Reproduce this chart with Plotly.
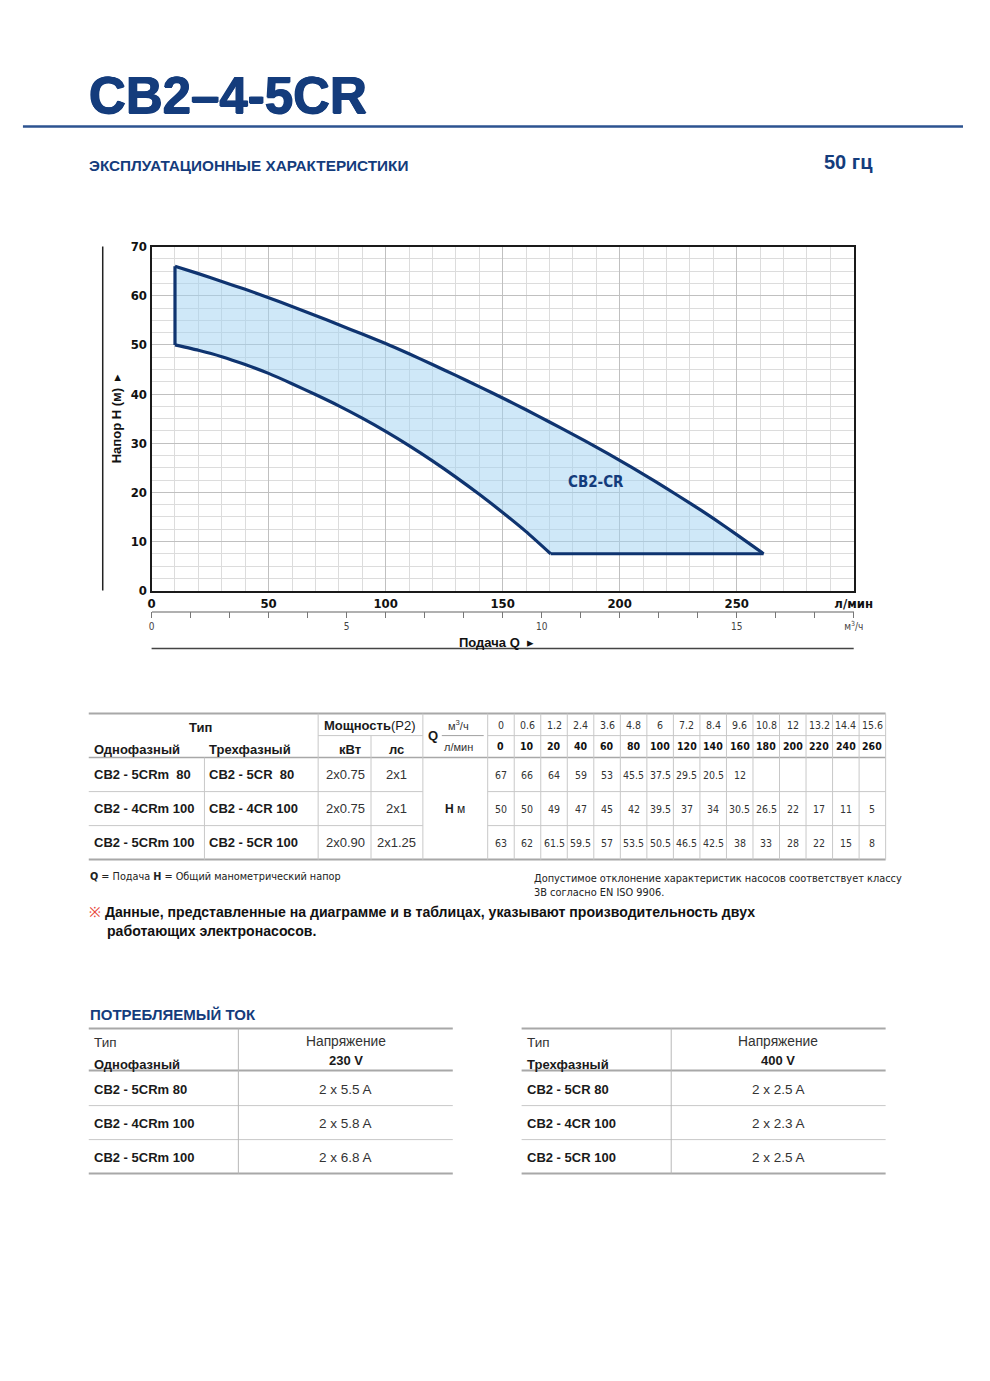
import plotly.graph_objects as go

# Window size (px); the page body keeps its default 8px margin
W, H = 990, 1381
M = 8
FW, FH = W - 2 * M, H - 2 * M
# the photographed page comes out slightly scaled; these undo it
SX, OX = 0.979, 3.2
SY, OY = 0.989, 6.5

# Performance envelope (Q in l/min, H in m)
q_upper = [10, 20, 30, 40, 50, 60, 70, 80, 90, 100, 110, 120, 130, 140, 150,
           160, 170, 180, 190, 200, 210, 220, 230, 240, 250, 261.5]
h_upper = [66, 64.5, 62.9, 61.3, 59.6, 57.8, 56.0, 54.1, 52.2, 50.3, 48.2, 46.0, 43.8, 41.5, 39.2,
           36.8, 34.3, 31.8, 29.2, 26.5, 23.7, 20.8, 17.8, 14.7, 11.4, 7.5]
q_lower = [10, 20, 30, 40, 50, 60, 70, 80, 90, 100, 110, 120, 130, 140, 150, 160, 170.5]
h_lower = [50, 48.9, 47.6, 46.0, 44.2, 42.1, 39.9, 37.6, 35.1, 32.4, 29.5, 26.4, 23.1, 19.6, 15.9, 12.0, 7.5]

x_ticks = [0, 50, 100, 150, 200, 250]
m3h_ticks = [0, 5, 10, 15]

# Main table
q_m3h = ["0", "0.6", "1.2", "2.4", "3.6", "4.8", "6", "7.2", "8.4", "9.6", "10.8", "12", "13.2", "14.4", "15.6"]
q_lmin = [0, 10, 20, 40, 60, 80, 100, 120, 140, 160, 180, 200, 220, 240, 260]
h_5cr80 = [67, 66, 64, 59, 53, 45.5, 37.5, 29.5, 20.5, 12]
h_4cr100 = [50, 50, 49, 47, 45, 42, 39.5, 37, 34, 30.5, 26.5, 22, 17, 11, 5]
h_5cr100 = [63, 62, 61.5, 59.5, 57, 53.5, 50.5, 46.5, 42.5, 38, 33, 28, 22, 15, 8]
single_phase = ["CB2 - 5CRm  80", "CB2 - 4CRm 100", "CB2 - 5CRm 100"]
three_phase = ["CB2 - 5CR  80", "CB2 - 4CR 100", "CB2 - 5CR 100"]
power_kw = ["2x0.75", "2x0.75", "2x0.90"]
power_hp = ["2x1", "2x1", "2x1.25"]

# Current tables
cur_single = ["CB2 - 5CRm 80", "CB2 - 4CRm 100", "CB2 - 5CRm 100"]
cur_230 = ["2 x 5.5 A", "2 x 5.8 A", "2 x 6.8 A"]
cur_three = ["CB2 - 5CR 80", "CB2 - 4CR 100", "CB2 - 5CR 100"]
cur_400 = ["2 x 2.5 A", "2 x 2.3 A", "2 x 2.5 A"]

NAVY = "#143c7c"
LINE_NAVY = "#0f3470"
FONT = "Liberation Sans, Arial, sans-serif"
NARROW = "Liberation Sans Narrow, DejaVu Sans Condensed, Liberation Sans, sans-serif"


def px(x):
    return min(((x - OX) / SX - M) / FW, 1.0)


def py(y):
    return 1 - ((y - OY) / SY - M) / FH


fig = go.Figure()


def text(x, y, s, size=13, color="#1a1a1a", anchor="left", family=FONT, angle=0, shadow=None):
    f = dict(size=size, color=color, family=family)
    if shadow:
        f["shadow"] = shadow
    fig.add_annotation(x=px(x), y=py(y), xref="paper", yref="paper", text=s,
                       showarrow=False, xanchor=anchor, yanchor="middle", textangle=angle, font=f)


def hline(x0, x1, y, color="#c8c8c8", width=1):
    fig.add_shape(type="line", xref="paper", yref="paper", x0=px(x0), x1=px(x1),
                  y0=py(y), y1=py(y), line=dict(color=color, width=width))


def vline(x, y0, y1, color="#c8c8c8", width=1):
    fig.add_shape(type="line", xref="paper", yref="paper", x0=px(x), x1=px(x),
                  y0=py(y0), y1=py(y1), line=dict(color=color, width=width))


# Envelope: filled polygon, then smooth curves and straight edges on top
poly_x = q_upper + q_lower[::-1] + [q_upper[0]]
poly_y = h_upper + h_lower[::-1] + [h_upper[0]]
fig.add_trace(go.Scatter(x=poly_x, y=poly_y, mode="lines", fill="toself",
                         fillcolor="rgba(160,210,242,0.5)", line=dict(width=0),
                         showlegend=False, hoverinfo="skip"))
for qx, hy in [(q_upper, h_upper), (q_lower, h_lower)]:
    fig.add_trace(go.Scatter(x=qx, y=hy, mode="lines",
                             line=dict(color=LINE_NAVY, width=3.2, shape="spline", smoothing=0.5),
                             showlegend=False, hoverinfo="skip"))
fig.add_trace(go.Scatter(x=[q_lower[-1], q_upper[-1], None, q_upper[0], q_lower[0]],
                         y=[h_lower[-1], h_upper[-1], None, h_upper[0], h_lower[0]],
                         mode="lines", line=dict(color=LINE_NAVY, width=3.2),
                         showlegend=False, hoverinfo="skip"))
fig.add_annotation(x=190, y=22, xref="x", yref="y", text="<b>CB2-CR</b>", showarrow=False,
                   font=dict(size=15, color=NAVY, family=NARROW))

# dummy trace so the m3/h axis is drawn
fig.add_trace(go.Scatter(x=[0, 18], y=[None, None], xaxis="x2", yaxis="y",
                         showlegend=False, hoverinfo="skip"))

ytop, ybot = 246, 590
fig.update_layout(
    width=FW, height=FH,
    margin=dict(l=0, r=0, t=0, b=0),
    paper_bgcolor="white", plot_bgcolor="white",
    showlegend=False,
    xaxis=dict(
        domain=[px(151), px(855)], range=[0, 300], anchor="y",
        tickmode="array", tickvals=x_ticks + [300],
        ticktext=["<b>%d</b>" % v for v in x_ticks] + ["<b>л/мин</b>"],
        tickfont=dict(size=13, color="#111", family=NARROW),
        showgrid=True, gridcolor="#c0c0c0", gridwidth=1.2,
        minor=dict(tickmode="linear", tick0=0, dtick=10, showgrid=True, gridcolor="#dcdcdc"),
        showline=True, mirror=True, linecolor="#1a1a1a", linewidth=2,
        ticks="", zeroline=False, fixedrange=True,
    ),
    yaxis=dict(
        domain=[py(ybot), py(ytop)], range=[0, 70], anchor="x",
        tickmode="linear", tick0=0, dtick=10,
        tickprefix="<b>", ticksuffix="</b>",
        tickfont=dict(size=13, color="#111", family=NARROW),
        showgrid=True, gridcolor="#c0c0c0", gridwidth=1.2,
        minor=dict(tickmode="linear", tick0=0, dtick=2.5, showgrid=True, gridcolor="#dcdcdc"),
        showline=True, mirror=True, linecolor="#1a1a1a", linewidth=2,
        ticks="", zeroline=False, fixedrange=True,
    ),
    xaxis2=dict(
        overlaying="x", anchor="free", position=py(611), side="bottom",
        range=[0, 18], tickmode="array", tickvals=m3h_ticks + [18],
        ticktext=[str(v) for v in m3h_ticks] + ["м<sup>3</sup>/ч"],
        tickfont=dict(size=10, color="#444", family=NARROW),
        ticks="outside", ticklen=6, tickcolor="#777", tickwidth=1,
        minor=dict(tickmode="linear", tick0=0, dtick=1, ticks="outside", ticklen=6,
                   tickcolor="#777", showgrid=False),
        showline=True, linecolor="#b0b0b0", linewidth=1.5,
        showgrid=False, zeroline=False, fixedrange=True,
    ),
)

# Axis decorations
vline(102, ytop, ybot, color="#222", width=1.5)
text(116, 418, "<b>Напор H (м)</b>  ▸", size=13, color="#111", anchor="center", angle=-90)
hline(151, 855, 648, color="#444", width=1.5)
text(497, 642, "<b>Подача Q</b>  ▸", size=13, color="#111", anchor="center")

# Header
heavy = "0.7px 0 0 %s, -0.7px 0 0 %s, 0 0.5px 0 %s" % (NAVY, NAVY, NAVY)
text(86, 95, "<b>CB2–4-5CR</b>", size=51, color=NAVY, shadow=heavy)
hline(22, 968, 126, color="#2d5390", width=2.5)
text(86, 165, "<b>ЭКСПЛУАТАЦИОННЫЕ ХАРАКТЕРИСТИКИ</b>", size=15.3, color=NAVY)
text(876, 161, "<b>50 гц</b>", size=20, color=NAVY, anchor="right")

# ---- Main performance table ----
T0, T1 = 88, 887
top, mid, hdr = 713, 735, 757
rows = [757, 791, 825, 859]
dx0, dw = 488, (887 - 488) / 15

hline(T0, T1, top, color="#a8a8a8", width=2)
hline(T0, T1, hdr, color="#a8a8a8", width=1.5)
hline(T0, T1, rows[-1], color="#a8a8a8", width=2)
for r in rows[1:-1]:
    hline(T0, 423, r)
    hline(dx0, T1, r)
hline(318, 423, mid)
hline(dx0, T1, mid)
hline(442, 484, mid, color="#888", width=0.8)
vline(204, hdr, rows[-1])
vline(318, top, rows[-1])
vline(371, mid, rows[-1])
vline(423, top, rows[-1])
for i in range(16):
    vline(dx0 + i * dw, top, rows[-1])

text(200, 727, "<b>Тип</b>", size=13, anchor="center")
text(91, 749, "<b>Однофазный</b>", size=13)
text(207, 749, "<b>Трехфазный</b>", size=13)
text(370, 725, "<b>Мощность</b>(P2)", size=13, anchor="center")
text(350, 749, "<b>кВт</b>", size=13, anchor="center")
text(397, 749, "<b>лс</b>", size=13, anchor="center")
text(433, 735, "<b>Q</b>", size=13, anchor="center")
text(459, 724, "м<sup>3</sup>/ч", size=11, anchor="center", color="#333")
text(459, 746, "л/мин", size=11, anchor="center", color="#333")
text(455, 808, "<b>H</b> м", size=12, anchor="center")

for i in range(15):
    cx = dx0 + (i + 0.5) * dw
    text(cx, 724, q_m3h[i], size=10.5, anchor="center", color="#333", family=NARROW)
    text(cx, 745, "<b>%d</b>" % q_lmin[i], size=10.5, anchor="center", color="#111", family=NARROW)

for r, series in enumerate([h_5cr80, h_4cr100, h_5cr100]):
    cy = (rows[r] + rows[r + 1]) / 2
    text(91, cy, "<b>%s</b>" % single_phase[r].replace("  ", "&nbsp; "), size=13)
    text(207, cy, "<b>%s</b>" % three_phase[r].replace("  ", "&nbsp; "), size=13)
    text(345, cy, power_kw[r], size=13, anchor="center", color="#333")
    text(397, cy, power_hp[r], size=13, anchor="center", color="#333")
    for i, v in enumerate(series):
        text(dx0 + (i + 0.5) * dw, cy, "%g" % v, size=10.5, anchor="center", color="#333", family=NARROW)

# Notes
text(87, 876, "<b>Q</b> = Подача <b>H</b> = Общий манометрический напор", size=10.8, color="#222", family=NARROW)
text(532, 878, "Допустимое отклонение характеристик насосов соответствует классу", size=10.9, color="#222", family=NARROW)
text(532, 892, "3B согласно EN ISO 9906.", size=10.9, color="#222", family=NARROW)
text(86, 911, "<span style='color:#e8443a'>※</span> <b>Данные, представленные на диаграмме и в таблицах, указывают производительность двух</b>",
     size=14.1, color="#111")
text(104, 930, "<b>работающих электронасосов.</b>", size=14.1, color="#111")

# ---- Current tables ----
text(87, 1014, "<b>ПОТРЕБЛЯЕМЫЙ ТОК</b>", size=15, color=NAVY)


def current_table(x0, x1, xs, phase, volt, names, vals):
    hline(x0, x1, 1028, color="#a8a8a8", width=2)
    hline(x0, x1, 1070, color="#a8a8a8", width=2)
    hline(x0, x1, 1105)
    hline(x0, x1, 1139)
    hline(x0, x1, 1173, color="#a8a8a8", width=2)
    vline(xs, 1028, 1173, color="#b8b8b8")
    cx = (xs + x1) / 2
    text(x0 + 3, 1042, "Тип", size=13.5, color="#333")
    text(x0 + 3, 1064, "<b>%s</b>" % phase, size=13)
    text(cx, 1041, "Напряжение", size=13.8, anchor="center", color="#333")
    text(cx, 1060, "<b>%s</b>" % volt, size=13, anchor="center")
    for i, (n, v) in enumerate(zip(names, vals)):
        cy = 1089 + 34 * i
        text(x0 + 3, cy, "<b>%s</b>" % n, size=13)
        text(cx, cy, v, size=13.5, anchor="center", color="#333")


current_table(88, 453, 238, "Однофазный", "230 V", cur_single, cur_230)
current_table(522, 887, 672, "Трехфазный", "400 V", cur_three, cur_400)

fig.write_html("out.html")
